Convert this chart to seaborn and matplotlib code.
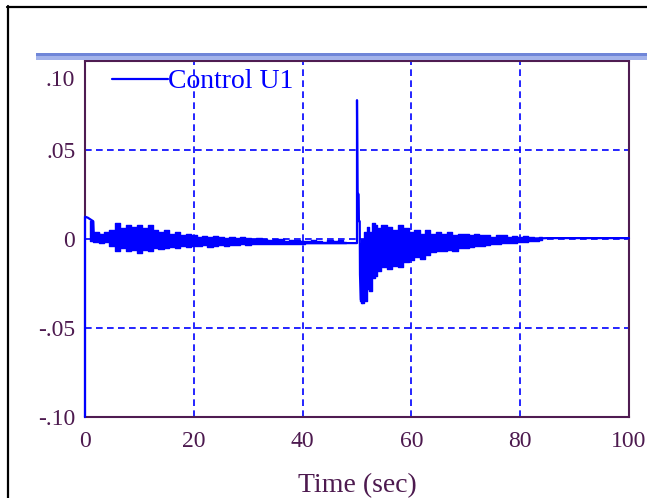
import numpy as np
import pandas as pd
import matplotlib
matplotlib.use("Agg")
import matplotlib.pyplot as plt
import seaborn as sns
from matplotlib.lines import Line2D
from matplotlib.patches import Rectangle
from matplotlib.transforms import ScaledTranslation

# ---------------- data ----------------
# main trace of Control U1 (start transient, steady part, spike at t = 50 s)
trace_t = [0, 0, 0.5, 1.0, 1.5, 1.6, 5, 20, 36, 50, 50, 50.1, 50.3, 50.35, 50.5,
           50.55, 50.7, 51.0, 51.3, 51.6, 52.0, 55, 60, 70, 80, 85, 100]
trace_u = [-0.100, 0.0125, 0.012, 0.011, 0.010, 0.003, 0.001, -0.001, -0.0023,
           -0.0023, 0.078, 0.026, 0.025, 0.010, 0.010, -0.020, -0.034, -0.036,
           -0.035, -0.028, -0.010, -0.004, -0.003, -0.001, 0.0, 0.0005, 0.0005]

# oscillation envelope after start-up (upper / lower peaks)
osc1_t = list(range(1, 49))
osc1_hi = [0.010, 0.004, 0.003, 0.004, 0.005, 0.009, 0.006, 0.008, 0.007, 0.008,
           0.006, 0.008, 0.005, 0.004, 0.005, 0.003, 0.004, 0.002, 0.003, 0.002,
           0.001, 0.0015, 0.001, 0.0015, 0.001, 0.0005, 0.001, 0.0005, 0.001, 0.0005,
           0.0, 0.0005, 0.0, -0.0005, 0.0, 0.0, -0.001, -0.0005, -0.0005, -0.001,
           -0.001, -0.0005, -0.001, -0.0015, -0.0005, -0.001, -0.0005, -0.0015]
osc1_lo = [-0.001, -0.0015, -0.002, -0.0015, -0.004, -0.007, -0.005, -0.007, -0.006, -0.008,
           -0.006, -0.007, -0.005, -0.0055, -0.005, -0.0045, -0.005, -0.004, -0.0045, -0.004,
           -0.004, -0.0035, -0.0045, -0.004, -0.0035, -0.004, -0.0035, -0.0035, -0.003, -0.0035,
           -0.003, -0.003, -0.003, -0.0028, -0.003, -0.0028, -0.0028, -0.0026, -0.0026, -0.0026,
           -0.0025, -0.0025, -0.0025, -0.0025, -0.0025, -0.0025, -0.0025, -0.0025]

# oscillation envelope after the disturbance at t = 50 s
osc2_t = [50.6, 51, 51.5, 52, 52.5, 53, 53.5, 54, 55, 56, 57, 58, 59, 60, 61, 62, 63,
          64, 65, 66, 67, 68, 69, 70, 71, 72, 73, 74, 75, 76, 77, 78, 79, 80, 81,
          82, 83, 84]
osc2_hi = [-0.002, 0.0, 0.004, 0.007, 0.004, 0.009, 0.008, 0.006, 0.008, 0.007, 0.005,
           0.008, 0.006, 0.004, 0.005, 0.003, 0.005, 0.003, 0.004, 0.003, 0.004, 0.002,
           0.003, 0.003, 0.002, 0.003, 0.002, 0.002, 0.001, 0.002, 0.002, 0.001, 0.0015,
           0.001, 0.0015, 0.001, 0.0005, 0.001]
osc2_lo = [-0.035, -0.036, -0.035, -0.028, -0.029, -0.022, -0.021, -0.018, -0.016, -0.017,
           -0.015, -0.016, -0.013, -0.012, -0.010, -0.011, -0.009, -0.0075, -0.007, -0.007,
           -0.006, -0.0065, -0.005, -0.005, -0.0045, -0.004, -0.004, -0.0035, -0.003, -0.003,
           -0.0025, -0.002, -0.002, -0.0015, -0.0015, -0.001, -0.001, -0.0005]

x_ticks = [0, 20, 40, 60, 80, 100]
x_tick_labels = ["0", "20", "40", "60", "80", "100"]
y_ticks = [-0.10, -0.05, 0.0, 0.05, 0.10]
y_tick_labels = ["-.10", "-.05", "0", ".05", ".10"]
series_name = "Control U1"
x_title = "Time (sec)"

# ---------------- style ----------------
sns.set_theme(style="white")
plt.rcParams["font.family"] = ["Liberation Serif", "DejaVu Serif"]
TXT = "#4d1a4f"
BLUE = "#0000ff"

fig = plt.figure(figsize=(6.47, 4.98), dpi=100)
fig.patch.set_facecolor("white")
W, H = 647, 498
ax = fig.add_axes([85 / W, (H - 417) / H, 544 / W, 356 / H])
ax.set_facecolor("white")

df = pd.DataFrame({"t": trace_t, "u": trace_u})
sns.lineplot(data=df, x="t", y="u", estimator=None, sort=False, color=BLUE,
             lw=1.6, label=series_name, ax=ax, zorder=3, clip_on=False)

for tt, hi, lo in [(osc1_t, osc1_hi, osc1_lo), (osc2_t, osc2_hi, osc2_lo)]:
    ax.fill_between(tt, lo, hi, step="mid", facecolor=BLUE, edgecolor=BLUE,
                    lw=1.0, zorder=3)

ax.set_xlim(0, 100)
ax.set_ylim(-0.1, 0.1)
ax.set_xticks(x_ticks)
ax.set_xticklabels(x_tick_labels)
ax.set_yticks(y_ticks)
ax.set_yticklabels(y_tick_labels)
ax.tick_params(axis="both", length=0, labelsize=17, colors=TXT)
ax.tick_params(axis="y", pad=7)
ax.tick_params(axis="x", pad=10)
ax.set_xlabel(x_title, fontsize=20, color=TXT, labelpad=15)
ax.set_ylabel("")

ax.set_axisbelow(True)
ax.grid(True, color=BLUE, linestyle=(0, (4, 2.6)), lw=1.2)

for sp in ax.spines.values():
    sp.set_visible(True)
    sp.set_color("#4f1c52")
    sp.set_linewidth(1.5)

# move the top y tick label down like in the reference
top_lab = ax.get_yticklabels()[-1]
top_lab.set_transform(top_lab.get_transform() +
                      ScaledTranslation(0, -17 / 100, fig.dpi_scale_trans))

leg = ax.legend(loc="upper left", bbox_to_anchor=(27 / 544, 0.978), frameon=False,
                fontsize=20, handlelength=2.0, handletextpad=0.0,
                borderaxespad=0, borderpad=0, labelcolor=BLUE)

# decorative frame elements of the original window
fig.add_artist(Rectangle((36 / W, 1 - 56.5 / H), 1, 3.5 / H, transform=fig.transFigure,
                         facecolor="#6f86d8", edgecolor="none"))
fig.add_artist(Rectangle((36 / W, 1 - 60 / H), 1, 3.5 / H, transform=fig.transFigure,
                         facecolor="#a3b3ea", edgecolor="none"))
fig.add_artist(Line2D([7.8 / W, 7.8 / W], [0, 1 - 6 / H], transform=fig.transFigure,
                      color="black", lw=1.6))
fig.add_artist(Line2D([7 / W, 1], [1 - 6.8 / H, 1 - 6.8 / H], transform=fig.transFigure,
                      color="black", lw=1.6))

fig.savefig("out.png", dpi=100, facecolor="white")
